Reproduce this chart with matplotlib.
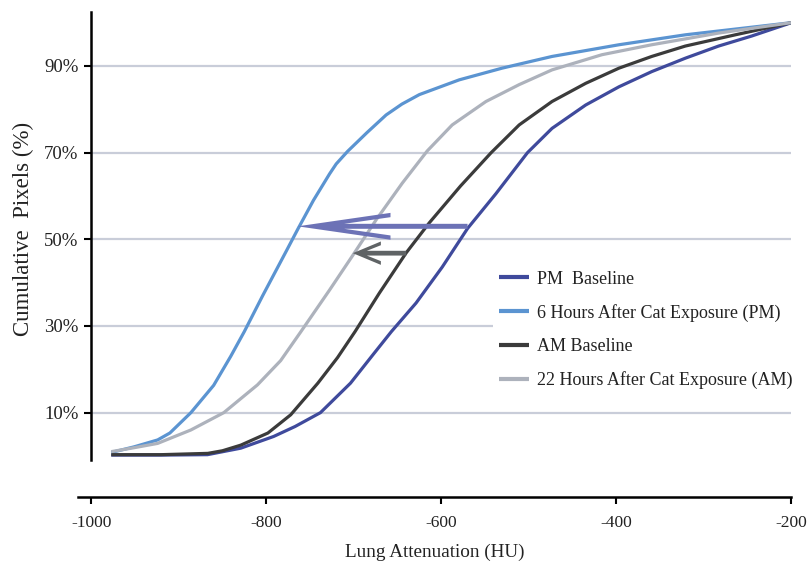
"""Cumulative lung attenuation curves, baseline vs. after cat exposure."""

import matplotlib.pyplot as plt
from matplotlib.patches import Polygon

# --- data ------------------------------------------------------------------
pm_base_hu = [-977, -920, -867, -829, -791.5, -767, -738, -703.7, -677.5,
              -657, -628.8, -598.9, -570, -537.7, -501.5, -473.5, -435, -397,
              -359.6, -321.2, -283.2, -245.6, -200]
pm_base_pct = [0.2, 0.2, 0.3, 1.8, 4.5, 6.8, 10, 16.8, 23.5,
               28.7, 35.3, 43.6, 52.5, 60.5, 70, 75.6, 81, 85.2,
               88.7, 91.8, 94.6, 96.9, 100]

pm_6h_hu = [-977, -951, -924, -910, -886, -860, -840.5, -825, -804, -777,
            -764, -746, -727.6, -720, -707, -685, -663, -645, -625, -579.5,
            -530.5, -473.5, -397, -321, -200]
pm_6h_pct = [0.8, 2.1, 3.7, 5.3, 10, 16.3, 23, 28.7, 37, 47.3,
             52.3, 59, 65.1, 67.4, 70.3, 74.6, 78.7, 81.2, 83.4, 86.8,
             89.5, 92.2, 94.9, 97.2, 100]

am_base_hu = [-977, -920, -866.7, -850, -829, -798, -772, -741, -718.5,
              -698.5, -670.7, -640, -613.7, -578, -543, -511, -473.5, -435,
              -397, -359.6, -321.2, -264, -200]
am_base_pct = [0.3, 0.3, 0.6, 1.2, 2.5, 5.3, 9.5, 16.8, 22.7,
               28.7, 37.6, 46.9, 53.8, 62.3, 70, 76.4, 81.8, 86,
               89.5, 92.2, 94.6, 97.2, 100]

am_22h_hu = [-977, -951, -924, -886, -848.4, -810, -783.5, -761, -727.6,
             -701.4, -674.4, -644.4, -616, -587.5, -549, -511, -473.5,
             -416.5, -359.6, -283, -200]
am_22h_pct = [1.0, 1.9, 2.9, 6, 10, 16.4, 22, 28.5, 38.3,
              46.2, 54.5, 63, 70.4, 76.4, 81.8, 85.7, 89.1,
              92.6, 94.9, 97.6, 100]

series_labels = ["PM  Baseline", "6 Hours After Cat Exposure (PM)",
                 "AM Baseline", "22 Hours After Cat Exposure (AM)"]
series_colors = ["#3f4a9c", "#5b94d1", "#3b3b3b", "#adb2bc"]

x_ticks = [-1000, -800, -600, -400, -200]
y_ticks = [10, 30, 50, 70, 90]
y_tick_labels = ["10%", "30%", "50%", "70%", "90%"]

# shift arrows: (from HU, to HU, level %)
shift_pm = (-570, -764, 53)
shift_am = (-640, -701, 46.8)

plt.rcParams["font.family"] = ["Liberation Serif", "DejaVu Serif"]
text_color = "#222222"


def swept_arrow(ax, start, end, level, head_len, head_w, shaft_w, color):
    """Left-pointing arrow with swept-back barbs, in data units."""
    tip = end
    neck = tip + head_len * 0.5
    pts = [
        (tip, level),
        (tip + head_len, level + head_w),
        (tip + head_len, level + head_w * 0.68),
        (neck, level + shaft_w / 2),
        (start, level + shaft_w / 2),
        (start, level - shaft_w / 2),
        (neck, level - shaft_w / 2),
        (tip + head_len, level - head_w * 0.68),
        (tip + head_len, level - head_w),
    ]
    ax.add_patch(Polygon(pts, closed=True, facecolor=color, edgecolor="none",
                         zorder=4))


fig, ax = plt.subplots(figsize=(8.08, 5.63), dpi=100)
fig.subplots_adjust(left=0.0965, right=0.9795, bottom=0.117, top=0.979)

ax.hlines(y_ticks, -1000, -200, color="#c9cdd9", linewidth=1.6, zorder=1)

all_hu = [pm_base_hu, pm_6h_hu, am_base_hu, am_22h_hu]
all_pct = [pm_base_pct, pm_6h_pct, am_base_pct, am_22h_pct]
for hu, pct, lab, col in zip(all_hu, all_pct, series_labels, series_colors):
    ax.plot(hu, pct, color=col, linewidth=2.3, label=lab, zorder=3,
            solid_capstyle="butt", solid_joinstyle="round")

swept_arrow(ax, *shift_pm, head_len=106, head_w=3.1, shaft_w=1.15,
            color="#6c72b6")
swept_arrow(ax, *shift_am, head_len=32, head_w=2.7, shaft_w=1.1,
            color="#5f6365")

ax.set_xlim(-1015, -200)
ax.set_ylim(-9.5, 102.5)

ax.spines["top"].set_visible(False)
ax.spines["right"].set_visible(False)
ax.spines["left"].set_position(("data", -1000))
ax.spines["left"].set_bounds(-1, 102.5)
ax.spines["left"].set_linewidth(1.8)
ax.spines["bottom"].set_linewidth(1.8)

ax.set_xticks(x_ticks)
ax.set_xticklabels([str(v) for v in x_ticks])
ax.set_yticks(y_ticks)
ax.set_yticklabels(y_tick_labels)
ax.tick_params(axis="both", direction="out", length=5, width=1.5,
               colors="black", labelcolor=text_color)
ax.tick_params(axis="x", pad=8, labelsize=12.5)
ax.tick_params(axis="y", pad=4, labelsize=13.5)

ax.set_xlabel("Lung Attenuation (HU)", fontsize=13.8, color=text_color,
              labelpad=9)
ax.set_ylabel("Cumulative  Pixels (%)", fontsize=16.5, color=text_color)
ax.yaxis.set_label_coords(-0.062, 0.553)

leg = ax.legend(loc="upper left", bbox_to_anchor=(0.582, 0.478),
                frameon=True, fancybox=False, facecolor="white",
                edgecolor="none", framealpha=1, handlelength=1.67,
                handletextpad=0.45, labelspacing=0.9, borderpad=0.3,
                borderaxespad=0, fontsize=13)
for txt in leg.get_texts():
    txt.set_color(text_color)
for line in leg.get_lines():
    line.set_linewidth(3)
leg.set_zorder(2)

fig.savefig("out.png", dpi=100)
plt.close(fig)
